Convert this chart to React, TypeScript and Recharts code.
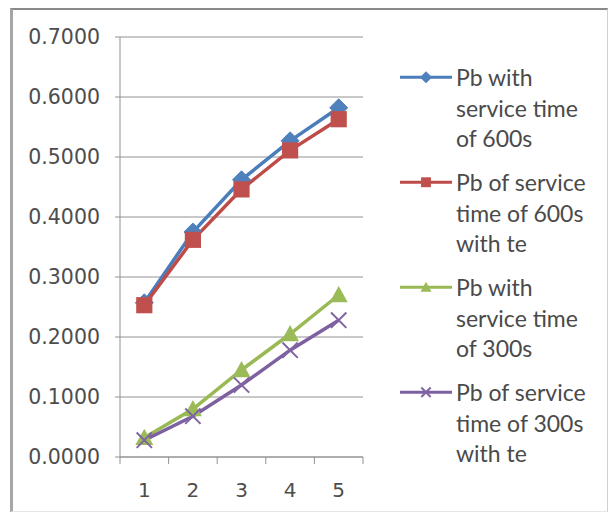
import { LineChart, Line, XAxis, YAxis, CartesianGrid, Legend } from 'recharts';

const CATEGORIES = [1, 2, 3, 4, 5];
const PB_600 = [0.257, 0.375, 0.462, 0.527, 0.582];
const PB_600_TE = [0.253, 0.362, 0.446, 0.511, 0.563];
const PB_300 = [0.032, 0.08, 0.145, 0.205, 0.27];
const PB_300_TE = [0.028, 0.068, 0.12, 0.178, 0.228];

const Y_TICKS = [0, 0.1, 0.2, 0.3, 0.4, 0.5, 0.6, 0.7];
// half steps carry the boundary tick marks, whole steps the labels
const X_TICKS = [0.5, 1, 1.5, 2, 2.5, 3, 3.5, 4, 4.5, 5, 5.5];

const SERIES = [
  { key: 'pb600', name: 'Pb with\nservice time\nof 600s', line: '#4A7EBB', fill: '#4F81BD', marker: 'diamond' },
  { key: 'pb600te', name: 'Pb of service\ntime of 600s\nwith te', line: '#BE4B48', fill: '#C0504D', marker: 'square' },
  { key: 'pb300', name: 'Pb with\nservice time\nof 300s', line: '#98B954', fill: '#9BBB59', marker: 'triangle' },
  { key: 'pb300te', name: 'Pb of service\ntime of 300s\nwith te', line: '#7D60A0', fill: '#8064A2', marker: 'x' },
];

const data = CATEGORIES.map((x, i) => ({
  x,
  pb600: PB_600[i],
  pb600te: PB_600_TE[i],
  pb300: PB_300[i],
  pb300te: PB_300_TE[i],
}));

const AXIS = '#929292';
const TEXT = '#4d4d4d';
const TICK_FONT = 'DejaVu Sans';

function Marker({ cx, cy, shape, color, s }: { cx: number; cy: number; shape: string; color: string; s: number }) {
  if (shape === 'diamond') {
    return <polygon points={`${cx},${cy - s} ${cx + s},${cy} ${cx},${cy + s} ${cx - s},${cy}`} fill={color} stroke={color} />;
  }
  if (shape === 'square') {
    return <rect x={cx - s * 0.9} y={cy - s * 0.9} width={s * 1.8} height={s * 1.8} fill={color} />;
  }
  if (shape === 'triangle') {
    return <polygon points={`${cx},${cy - s} ${cx + s},${cy + s * 0.8} ${cx - s},${cy + s * 0.8}`} fill={color} />;
  }
  const d = s * 0.85;
  return (
    <g stroke={color} strokeWidth={2}>
      <line x1={cx - d} y1={cy - d} x2={cx + d} y2={cy + d} />
      <line x1={cx - d} y1={cy + d} x2={cx + d} y2={cy - d} />
    </g>
  );
}

function XTick(props: any) {
  const { x, y, payload } = props;
  const v = payload.value;
  if (Number.isInteger(v)) {
    return (
      <text x={x} y={y + 40} textAnchor="middle" fill={TEXT} fontSize={20} fontFamily={TICK_FONT}>
        {v}
      </text>
    );
  }
  return <line x1={x} x2={x} y1={y} y2={y + 7} stroke={AXIS} />;
}

function LegendContent() {
  return (
    <div style={{ fontFamily: 'Lato', fontSize: 23, color: '#4a4a4a' }}>
      {SERIES.map((s) => (
        <div key={s.key} style={{ display: 'flex', alignItems: 'flex-start', marginBottom: 13.5 }}>
          <svg width={52} height={30.5} style={{ flexShrink: 0 }}>
            <line x1={0} x2={52} y1={15.25} y2={15.25} stroke={s.line} strokeWidth={3} />
            <Marker cx={26} cy={15.25} shape={s.marker} color={s.fill} s={5.5} />
          </svg>
          <div style={{ marginLeft: 4, whiteSpace: 'pre-line', lineHeight: '30.5px' }}>{s.name}</div>
        </div>
      ))}
    </div>
  );
}

export default function App() {
  return (
    <div style={{ position: 'absolute', left: 0, top: 0, width: 609, height: 515, background: '#fff' }}>
      <div
        style={{
          position: 'absolute',
          left: 10,
          top: 8,
          width: 598,
          height: 504,
          boxSizing: 'border-box',
          borderTop: '2px solid #8a8a8a',
          borderLeft: '3px solid #a6a6a6',
          borderRight: '1px solid #d0d0d0',
          borderBottom: '1px solid #e6e6e6',
        }}
      />
      <div style={{ position: 'absolute', left: 0, top: 0 }}>
        <LineChart width={609} height={515} data={data} margin={{ top: 37, right: 246, bottom: 0, left: 0 }}>
          <CartesianGrid horizontal vertical={false} stroke={AXIS} />
          <XAxis
            dataKey="x"
            type="number"
            domain={[0.5, 5.5]}
            ticks={X_TICKS}
            interval={0}
            height={58}
            tickSize={0}
            tickMargin={0}
            tickLine={false}
            tick={<XTick />}
            axisLine={{ stroke: AXIS }}
            allowDataOverflow
          />
          <YAxis
            width={120}
            domain={[0, 0.7]}
            ticks={Y_TICKS}
            interval={0}
            tickSize={5}
            tickMargin={15}
            tickLine={{ stroke: AXIS }}
            axisLine={{ stroke: AXIS }}
            tickFormatter={(v: number) => v.toFixed(4)}
            tick={{ fill: TEXT, fontSize: 20.5, fontFamily: TICK_FONT }}
          />
          <Legend
            layout="vertical"
            align="center"
            verticalAlign="middle"
            content={<LegendContent />}
            wrapperStyle={{ position: 'absolute', left: 400, top: 62, width: 205 }}
          />
          {SERIES.map((s) => (
            <Line
              key={s.key}
              dataKey={s.key}
              name={s.name}
              type="linear"
              stroke={s.line}
              strokeWidth={3.5}
              isAnimationActive={false}
              dot={(p: any) => <Marker key={p.index} cx={p.cx} cy={p.cy} shape={s.marker} color={s.fill} s={9} />}
              activeDot={false}
            />
          ))}
        </LineChart>
      </div>
    </div>
  );
}
